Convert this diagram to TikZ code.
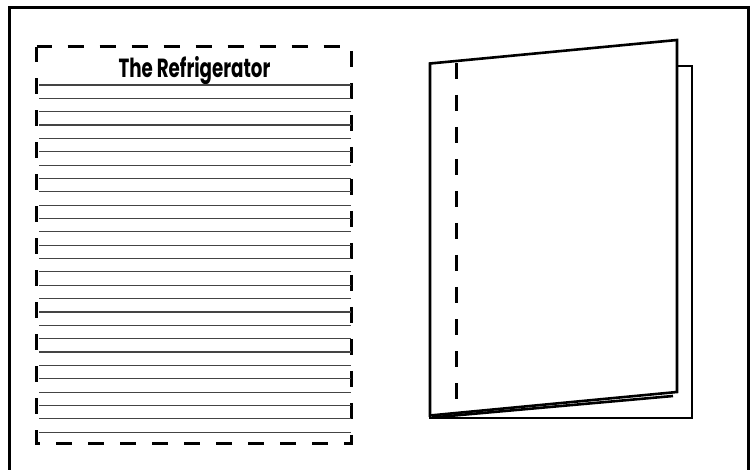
\documentclass[tikz,border=0pt]{standalone}
\usepackage{fontspec}
\usepackage{xcolor}
\usepackage{tikz}
\newfontfamily\fridgefont{Poppins}
\definecolor{SheetInk}{HTML}{000000}
\definecolor{SheetRule}{HTML}{444444}

\begin{document}
\begin{tikzpicture}[x=1pt,y=-1pt,
    cutline/.style={SheetInk, line width=3pt, dash pattern=on 16pt off 16pt},
    edgeline/.style={SheetInk, line width=2.6pt, line join=miter}]
        \useasboundingbox (0,0) rectangle (752,470);
        \draw[SheetInk, line width=3pt] (9.5,472) -- (9.5,7.5) -- (748,7.5) -- (748,472);
        \draw[cutline, dash phase=1pt] (36.7,46.7) -- (351.5,46.7) -- (351.5,443) -- (36.7,443) -- cycle;
        \node[SheetInk, font=\fridgefont\bfseries\fontsize{25pt}{27pt}\selectfont, anchor=base, xscale=0.73, yscale=1.05] (title) at (194.5,78) {The Refrigerator};
        \foreach \k in {0,...,26} {
          \draw[SheetRule, line width=1.1pt] (39,85+13.35*\k) -- (351,85+13.35*\k);
        }
        \draw[edgeline, fill=white] (430,66) rectangle (692,418);
        \draw[edgeline] (432,417.5) -- (673,396);
        \draw[edgeline, fill=white] (430,63.5) -- (677,40) -- (677,392) -- (430,415.5) -- cycle;
        \draw[cutline, line width=2.6pt] (456.7,63) -- (456.7,413);
      \end{tikzpicture}
\end{document}
